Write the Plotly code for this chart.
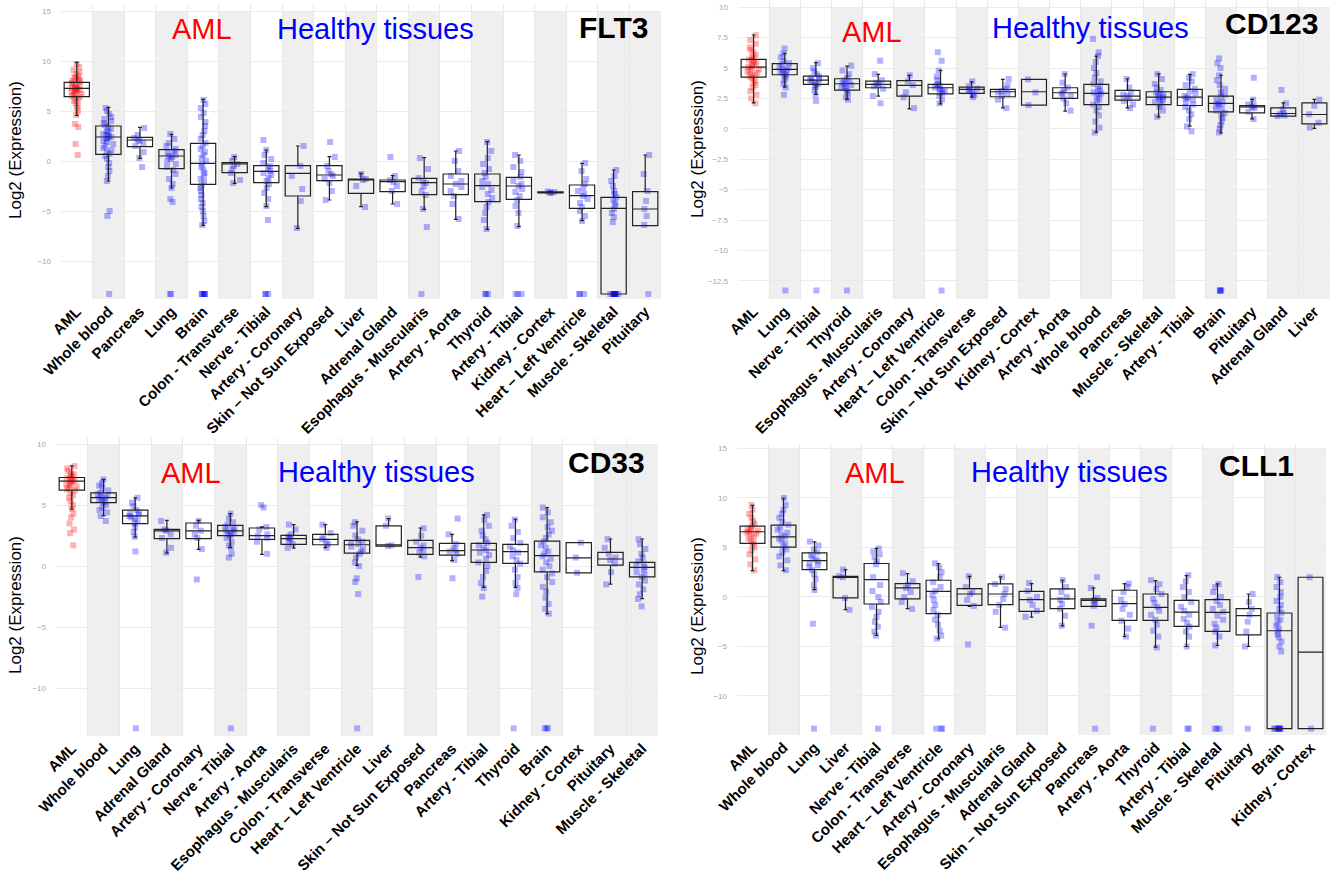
import plotly.graph_objects as go

W, H = 1338, 873
FONT = "Arial, Liberation Sans, sans-serif"

# ---------------- FLT3 ----------------
FLT3_cats = ['AML', 'Whole blood', 'Pancreas', 'Lung', 'Brain', 'Colon - Transverse', 'Nerve - Tibial',
             'Artery - Coronary', 'Skin – Not Sun Exposed', 'Liver', 'Adrenal Gland', 'Esophagus - Muscularis',
             'Artery - Aorta', 'Thyroid', 'Artery - Tibial', 'Kidney - Cortex', 'Heart – Left Ventricle',
             'Muscle - Skeletal', 'Pituitary']
FLT3_q1 = [6.43, 0.67, 1.43, -0.77, -2.33, -1.17, -2.17, -3.5, -1.97, -3.23, -3.07, -3.37, -3.37, -4.07, -3.83, -3.18, -4.73, -13.3, -6.47]
FLT3_med = [7.27, 2.4, 2.1, 0.5, -0.23, -0.3, -1.03, -1.23, -1.4, -1.83, -2.07, -2.17, -2.3, -2.47, -2.5, -3.13, -3.47, -4.73, -4.8]
FLT3_q3 = [7.87, 3.5, 2.37, 1.13, 1.77, -0.17, -0.47, -0.47, -0.47, -1.8, -1.9, -1.73, -1.3, -1.3, -1.63, -3.08, -2.4, -3.63, -3.07]
FLT3_lo = [4.57, -2.0, 0.27, -2.7, -6.43, -2.23, -4.57, -6.73, -3.9, -4.57, -4.3, -4.83, -5.83, -6.83, -6.57, -3.2, -5.97, -13.3, -6.47]
FLT3_hi = [9.87, 5.37, 3.37, 2.67, 6.17, 0.43, 1.1, 1.5, 0.43, -1.23, -1.47, 0.33, 1.0, 1.93, 0.6, -3.05, -0.23, -0.9, 0.6]
FLT3_pts = [
    [9.7, 9.4, 9.1, 8.9, 8.7, 8.5, 8.4, 8.3, 8.2, 8.1, 8.0, 7.9, 7.8, 7.7, 7.6, 7.5, 7.4, 7.3, 7.3, 7.2, 7.2, 7.1,
     7.0, 7.0, 6.9, 6.8, 6.7, 6.6, 6.5, 6.4, 6.3, 6.2, 6.0, 5.8, 5.6, 5.3, 5.0, 4.6, 3.7, 3.4, 1.7, 0.6],
    [5.3, 5.0, 4.7, 4.4, 4.2, 4.0, 3.8, 3.6, 3.4, 3.2, 3.0, 2.9, 2.7, 2.6, 2.5, 2.4, 2.3, 2.2, 2.0, 1.9, 1.7, 1.5,
     1.3, 1.1, 0.9, 0.7, 0.5, 0.2, -0.2, -0.6, -1.0, -1.5, -2.0, -5.0, -5.5, -13.3],
    [3.3, 2.6, 2.3, 2.1, 2.0, 1.8, 1.5, 0.9, 0.3, -0.6],
    [2.7, 2.2, 1.8, 1.5, 1.2, 1.0, 0.8, 0.6, 0.5, 0.4, 0.2, 0.0, -0.3, -0.6, -0.9, -1.3, -1.8, -2.3, -2.7, -3.8,
     -4.1, -13.3, -13.3],
    [6.1, 5.7, 5.3, 4.8, 4.4, 3.9, 3.5, 3.0, 2.6, 2.2, 1.8, 1.5, 1.2, 0.9, 0.6, 0.3, 0.0, -0.3, -0.6, -0.9, -1.2,
     -1.5, -1.8, -2.1, -2.4, -2.7, -3.0, -3.4, -3.8, -4.2, -4.6, -5.0, -5.5, -6.0, -6.4,
     -13.3, -13.3, -13.3, -13.3, -13.3, -13.3],
    [0.4, 0.0, -0.3, -0.5, -0.8, -1.2, -1.9, -2.2],
    [2.1, 1.1, 0.6, 0.2, -0.2, -0.5, -0.8, -1.0, -1.2, -1.4, -1.7, -2.0, -2.3, -2.7, -3.2, -3.8, -4.5, -5.9,
     -13.3, -13.3, -13.3],
    [1.5, -0.5, -1.5, -2.8, -4.0, -6.7],
    [1.9, 0.4, -0.5, -1.0, -1.3, -1.5, -1.8, -2.2, -3.0, -3.9],
    [-1.3, -1.8, -1.9, -2.5, -4.6],
    [0.4, -1.5, -1.9, -2.1, -2.5, -3.0, -4.3],
    [0.3, -0.8, -1.7, -2.0, -2.2, -2.5, -3.0, -3.4, -4.8, -6.6, -13.3],
    [1.0, 0.0, -1.0, -1.5, -2.0, -2.3, -2.6, -3.0, -3.5, -4.3, -5.8],
    [1.9, 1.0, 0.3, -0.3, -0.8, -1.2, -1.6, -2.0, -2.3, -2.6, -2.9, -3.3, -3.7, -4.1, -4.6, -5.2, -5.9, -6.8,
     -13.3, -13.3, -13.3],
    [0.6, 0.0, -0.6, -1.1, -1.6, -2.0, -2.3, -2.5, -2.8, -3.1, -3.5, -3.9, -4.5, -5.2, -6.5, -13.3, -13.3, -13.3],
    [-3.05, -3.1, -3.15, -3.2],
    [-0.2, -1.0, -1.8, -2.3, -2.7, -3.0, -3.3, -3.5, -3.8, -4.2, -4.6, -5.0, -5.5, -6.0, -13.3, -13.3, -13.3],
    [-0.9, -1.5, -2.0, -2.5, -3.0, -3.3, -3.6, -3.9, -4.2, -4.5, -4.8, -5.2, -5.6, -6.1,
     -13.3, -13.3, -13.3, -13.3, -13.3, -13.3, -13.3, -13.3, -13.3, -13.3],
    [0.6, -1.3, -3.0, -4.0, -4.8, -5.5, -6.4, -13.3],
]

# ---------------- CD123 ----------------
CD123_cats = ['AML', 'Lung', 'Nerve - Tibial', 'Thyroid', 'Esophagus - Muscularis', 'Artery - Coronary',
              'Heart – Left Ventricle', 'Colon - Transverse', 'Skin – Not Sun Exposed', 'Kidney - Cortex',
              'Artery - Aorta', 'Whole blood', 'Pancreas', 'Muscle - Skeletal', 'Artery - Tibial', 'Brain',
              'Pituitary', 'Adrenal Gland', 'Liver']
CD123_q1 = [4.26, 4.45, 3.65, 3.19, 3.38, 2.69, 2.88, 2.91, 2.64, 1.95, 2.5, 2.0, 2.36, 2.0, 1.92, 1.4, 1.32, 1.04, 0.41]
CD123_med = [5.08, 4.89, 4.01, 3.71, 3.65, 3.57, 3.38, 3.24, 3.05, 3.05, 2.97, 2.91, 2.69, 2.61, 2.61, 2.09, 1.81, 1.26, 1.18]
CD123_q3 = [5.71, 5.36, 4.34, 4.12, 3.93, 3.96, 3.65, 3.43, 3.24, 4.07, 3.38, 3.65, 3.16, 3.05, 3.24, 2.69, 1.92, 1.73, 2.14]
CD123_lo = [2.14, 3.43, 2.83, 2.42, 2.69, 1.65, 2.06, 2.61, 1.73, 1.95, 1.46, -0.27, 1.73, 0.99, 0.22, -0.33, 0.82, 1.04, 0.03]
CD123_hi = [7.72, 6.21, 5.44, 5.16, 4.48, 4.4, 4.81, 3.87, 4.07, 4.07, 4.51, 5.99, 4.12, 4.53, 4.48, 4.42, 2.42, 2.14, 2.42]
CD123_pts = [
    [7.7, 7.3, 7.0, 6.7, 6.5, 6.3, 6.1, 5.9, 5.8, 5.7, 5.6, 5.5, 5.4, 5.3, 5.2, 5.1, 5.0, 4.9, 4.8, 4.7, 4.6, 4.5,
     4.4, 4.3, 4.2, 4.0, 3.8, 3.6, 3.4, 3.1, 2.8, 2.5, 2.1],
    [6.6, 6.2, 5.9, 5.6, 5.4, 5.3, 5.1, 5.0, 4.9, 4.8, 4.7, 4.6, 4.5, 4.4, 4.2, 4.0, 3.7, 3.4, 2.8, -13.3],
    [5.4, 5.0, 4.7, 4.5, 4.3, 4.2, 4.1, 4.0, 3.9, 3.8, 3.7, 3.6, 3.4, 3.2, 2.8, 2.3, -13.3],
    [5.2, 4.8, 4.5, 4.2, 4.0, 3.9, 3.8, 3.7, 3.6, 3.5, 3.4, 3.3, 3.1, 2.9, 2.6, 2.4, -13.3],
    [5.6, 4.5, 4.0, 3.8, 3.7, 3.6, 3.5, 3.3, 2.7, 2.1],
    [4.4, 3.9, 3.6, 3.0, 2.6, 1.7],
    [6.3, 5.6, 4.8, 4.3, 4.0, 3.7, 3.6, 3.5, 3.4, 3.3, 3.2, 3.1, 3.0, 2.9, 2.7, 2.4, 2.1, -13.3],
    [3.9, 3.5, 3.3, 3.2, 3.1, 3.0, 2.8, 2.6],
    [4.1, 3.6, 3.3, 3.1, 3.0, 2.9, 2.7, 2.4, 1.7],
    [4.07, 3.0, 1.95],
    [4.5, 3.8, 3.4, 3.2, 3.0, 2.9, 2.7, 2.5, 2.1, 1.5],
    [7.4, 6.3, 6.0, 5.5, 5.0, 4.6, 4.2, 3.9, 3.7, 3.5, 3.3, 3.1, 3.0, 2.9, 2.8, 2.6, 2.4, 2.2, 2.0, 1.8, 1.5, 1.1,
     0.6, 0.1, -0.3],
    [4.1, 3.4, 3.0, 2.8, 2.7, 2.5, 2.3, 2.0, 1.7],
    [4.5, 4.1, 3.7, 3.4, 3.2, 3.0, 2.9, 2.8, 2.7, 2.6, 2.5, 2.4, 2.3, 2.2, 2.0, 1.8, 1.5, 1.0],
    [4.5, 4.2, 3.9, 3.6, 3.3, 3.1, 2.9, 2.7, 2.6, 2.5, 2.4, 2.2, 2.0, 1.8, 1.5, 1.2, 0.8, 0.2, -0.2],
    [5.8, 5.4, 5.0, 4.4, 4.0, 3.6, 3.3, 3.0, 2.8, 2.6, 2.4, 2.2, 2.1, 2.0, 1.9, 1.7, 1.5, 1.3, 1.1, 0.9, 0.6, 0.3,
     0.0, -0.3, -13.3, -13.3, -13.3, -13.3],
    [4.2, 2.4, 2.0, 1.9, 1.8, 1.7, 1.4, 0.8],
    [3.2, 2.1, 1.6, 1.3, 1.2, 1.1, 1.05],
    [2.4, 1.9, 1.2, 0.5, 0.1],
]

# ---------------- CD33 ----------------
CD33_cats = ['AML', 'Whole blood', 'Lung', 'Adrenal Gland', 'Artery - Coronary', 'Nerve - Tibial', 'Artery - Aorta',
             'Esophagus - Muscularis', 'Colon - Transverse', 'Heart – Left Ventricle', 'Liver',
             'Skin – Not Sun Exposed', 'Pancreas', 'Artery - Tibial', 'Thyroid', 'Brain', 'Kidney - Cortex',
             'Pituitary', 'Muscle - Skeletal']
CD33_q1 = [6.22, 5.21, 3.48, 2.25, 2.25, 2.49, 2.19, 1.78, 1.75, 1.07, 1.64, 0.96, 0.9, 0.3, 0.22, -0.47, -0.55, 0.08, -0.88]
CD33_med = [6.96, 5.62, 4.11, 2.88, 2.88, 2.88, 2.49, 2.25, 2.19, 1.75, 1.75, 1.51, 1.26, 1.32, 1.18, 0.85, 0.68, 0.58, -0.11]
CD33_q3 = [7.26, 6.0, 4.58, 3.01, 3.53, 3.34, 3.12, 2.52, 2.6, 2.11, 3.29, 2.11, 1.86, 1.86, 1.78, 2.05, 1.92, 1.12, 0.3]
CD33_lo = [4.66, 4.14, 2.38, 1.07, 1.37, 1.51, 0.96, 1.48, 1.51, 0.05, 1.64, 0.74, 0.44, -1.75, -1.75, -3.89, -0.55, -1.48, -2.66]
CD33_hi = [8.22, 7.1, 5.59, 3.75, 3.75, 4.3, 3.21, 3.4, 3.4, 3.62, 3.89, 3.12, 2.6, 4.19, 3.84, 4.79, 1.92, 2.22, 2.22]
CD33_pts = [
    [8.2, 8.0, 7.8, 7.6, 7.5, 7.4, 7.3, 7.2, 7.1, 7.0, 7.0, 6.9, 6.8, 6.7, 6.6, 6.5, 6.4, 6.3, 6.2, 6.0, 5.8, 5.6,
     5.3, 5.0, 4.7, 4.3, 4.0, 3.5, 3.0, 2.7, 1.7],
    [7.1, 6.8, 6.6, 6.4, 6.2, 6.0, 5.9, 5.8, 5.7, 5.6, 5.5, 5.4, 5.3, 5.2, 5.0, 4.8, 4.6, 4.4, 4.1, 3.7],
    [5.6, 5.2, 4.9, 4.6, 4.4, 4.3, 4.2, 4.1, 4.0, 3.9, 3.7, 3.5, 3.2, 2.8, 2.4, 1.2, -13.3],
    [3.7, 3.0, 2.9, 2.6, 2.3, 1.5, 1.1],
    [3.7, 3.3, 2.9, 2.6, 2.3, 1.4, -1.1],
    [4.3, 3.9, 3.6, 3.4, 3.2, 3.1, 3.0, 2.9, 2.8, 2.7, 2.6, 2.5, 2.3, 2.0, 1.7, 1.5, 1.0, 0.7, -13.3],
    [5.0, 4.8, 3.2, 3.0, 2.6, 2.5, 2.3, 2.0, 1.0],
    [3.4, 3.0, 2.6, 2.4, 2.3, 2.2, 2.0, 1.8, 1.5],
    [3.4, 2.7, 2.4, 2.2, 2.0, 1.8, 1.5],
    [3.6, 3.3, 2.9, 2.5, 2.2, 2.0, 1.9, 1.8, 1.6, 1.4, 1.2, 1.0, 0.7, 0.3, 0.0, -1.0, -1.3, -2.3, -13.3],
    [3.9, 3.3, 1.7, 1.65],
    [3.1, 2.5, 2.0, 1.7, 1.5, 1.3, 1.1, 0.8, -0.9],
    [3.9, 2.6, 1.8, 1.5, 1.3, 1.2, 1.0, 0.5, -1.0],
    [4.2, 3.8, 3.3, 2.9, 2.5, 2.2, 1.9, 1.7, 1.5, 1.3, 1.1, 0.9, 0.6, 0.3, 0.0, -0.4, -0.9, -1.4, -1.8, -2.5],
    [3.8, 3.3, 2.8, 2.3, 1.9, 1.6, 1.3, 1.1, 0.8, 0.5, 0.2, -0.3, -0.9, -1.4, -1.8, -2.3, -13.3],
    [4.8, 4.4, 4.0, 3.6, 3.2, 2.9, 2.6, 2.3, 2.0, 1.7, 1.5, 1.2, 1.0, 0.8, 0.6, 0.3, 0.0, -0.3, -0.6, -0.9, -1.3,
     -1.7, -2.1, -2.6, -3.1, -3.5, -3.9, -13.3, -13.3, -13.3],
    [1.92, 0.7, -0.55],
    [2.2, 1.5, 1.0, 0.7, 0.5, 0.2, -0.5, -1.5],
    [2.2, 1.8, 1.4, 1.0, 0.7, 0.4, 0.2, 0.0, -0.1, -0.3, -0.5, -0.7, -0.9, -1.2, -1.5, -1.9, -2.3, -2.7, -3.3],
]

# ---------------- CLL1 ----------------
CLL1_cats = ['AML', 'Whole blood', 'Lung', 'Liver', 'Nerve - Tibial', 'Colon - Transverse', 'Heart – Left Ventricle',
             'Artery - Coronary', 'Esophagus - Muscularis', 'Adrenal Gland', 'Skin – Not Sun Exposed', 'Pancreas',
             'Artery - Aorta', 'Thyroid', 'Artery - Tibial', 'Muscle - Skeletal', 'Pituitary', 'Brain',
             'Kidney - Cortex']
CLL1_q1 = [5.41, 5.03, 2.77, -0.1, -0.71, -0.2, -1.69, -0.84, -0.78, -1.45, -1.18, -0.95, -2.36, -2.36, -2.97, -3.48, -3.82, -13.3, -13.3]
CLL1_med = [6.59, 6.08, 3.68, 2.03, 1.76, 0.91, 0.57, 0.3, 0.3, -0.27, -0.2, -0.34, -0.68, -1.05, -1.52, -1.55, -1.89, -3.41, -5.57]
CLL1_q3 = [7.16, 7.26, 4.46, 2.09, 3.38, 1.35, 1.69, 0.84, 1.32, 0.57, 0.81, -0.2, 0.68, 0.3, -0.34, -0.27, -1.18, -1.62, 1.99]
CLL1_lo = [2.67, 2.67, 0.74, -1.28, -3.89, -1.18, -4.22, -0.95, -3.07, -2.03, -2.91, -0.95, -3.99, -5.07, -5.0, -4.9, -5.0, -13.3, -13.3]
CLL1_hi = [9.26, 9.97, 5.57, 2.77, 4.9, 2.36, 3.38, 2.09, 2.03, 1.35, 1.69, 0.91, 1.35, 1.66, 2.16, 1.32, 0.3, 1.99, 1.99]
CLL1_pts = [
    [9.3, 8.8, 8.4, 8.0, 7.7, 7.4, 7.2, 7.0, 6.9, 6.8, 6.7, 6.6, 6.5, 6.4, 6.3, 6.1, 5.9, 5.7, 5.5, 5.3, 5.0, 4.7,
     4.3, 3.8, 3.3, 2.7],
    [10.0, 9.3, 8.8, 8.4, 8.0, 7.6, 7.3, 7.0, 6.8, 6.5, 6.3, 6.1, 5.9, 5.7, 5.4, 5.1, 4.8, 4.5, 4.1, 3.7, 3.2, 2.7],
    [5.6, 5.2, 4.8, 4.5, 4.2, 4.0, 3.8, 3.6, 3.4, 3.2, 3.0, 2.7, 2.3, 1.8, 1.2, 0.7, -2.7, -13.3],
    [2.77, 2.1, 2.0, -0.1, -1.3],
    [4.9, 4.6, 4.3, 4.0, 3.6, 3.3, 2.0, 1.2, 0.6, 0.0, -0.5, -1.0, -1.5, -2.0, -2.5, -3.0, -3.5, -3.9, -13.3],
    [2.4, 1.6, 1.2, 0.9, 0.5, 0.0, -0.5, -1.2],
    [3.4, 3.0, 2.5, 2.0, 1.5, 1.0, 0.6, 0.2, -0.3, -0.8, -1.3, -1.8, -2.3, -2.8, -3.4, -3.9, -4.2,
     -13.3, -13.3, -13.3],
    [2.1, 1.0, 0.5, 0.3, -0.3, -0.9, -4.8],
    [2.0, 1.3, 0.8, 0.3, -0.2, -0.8, -1.5, -3.1],
    [1.4, 0.6, 0.0, -0.3, -0.8, -1.4, -2.0],
    [1.7, 1.0, 0.5, 0.0, -0.3, -0.7, -1.2, -1.9, -2.9],
    [2.0, 0.9, -0.1, -0.3, -0.4, -0.6, -0.9, -2.9, -13.3],
    [1.35, 1.0, 0.5, -0.3, -0.7, -1.2, -1.8, -2.4, -3.2, -4.0],
    [1.7, 1.3, 0.8, 0.3, -0.2, -0.6, -1.0, -1.4, -1.8, -2.3, -2.8, -3.4, -4.0, -5.1, -13.3],
    [2.2, 1.6, 1.0, 0.5, 0.0, -0.5, -1.0, -1.4, -1.8, -2.2, -2.6, -3.0, -3.5, -4.0, -5.0, -13.3, -13.3],
    [1.3, 1.0, 0.5, 0.0, -0.4, -0.8, -1.2, -1.5, -1.9, -2.3, -2.7, -3.1, -3.5, -4.0, -4.9, -13.3, -13.3, -13.3],
    [0.3, -0.5, -1.2, -1.8, -2.5, -3.5, -5.0, -13.3],
    [2.0, 1.5, 1.0, 0.5, 0.0, -0.4, -0.8, -1.2, -1.6, -2.0, -2.3, -2.6, -2.9, -3.2, -3.5, -3.8, -4.1, -4.5, -5.0,
     -5.5, -13.3, -13.3, -13.3, -13.3, -13.3, -13.3, -13.3, -13.3],
    [1.99, -13.3],
]

# ---------------- panel placement (pixels) ----------------
panels = [
    dict(gene='FLT3', cats=FLT3_cats, q1=FLT3_q1, med=FLT3_med, q3=FLT3_q3, lo=FLT3_lo, hi=FLT3_hi, pts=FLT3_pts,
         px=(61, 661), py=(4, 299), yr=(-13.8, 15.7), dtick=5, band_top=15,
         aml=(170, 29), healthy=(275, 29), genepos=(577, 28), title=(15, 150)),
    dict(gene='CD123', cats=CD123_cats, q1=CD123_q1, med=CD123_med, q3=CD123_q3, lo=CD123_lo, hi=CD123_hi,
         pts=CD123_pts, px=(738, 1330), py=(0, 299), yr=(-14.0, 10.6), dtick=2.5, band_top=10,
         aml=(840, 32), healthy=(990, 28), genepos=(1223, 23), title=(697, 149)),
    dict(gene='CD33', cats=CD33_cats, q1=CD33_q1, med=CD33_med, q3=CD33_q3, lo=CD33_lo, hi=CD33_hi, pts=CD33_pts,
         px=(56, 658), py=(438, 736), yr=(-13.93, 10.5), dtick=5, band_top=10,
         aml=(159, 473), healthy=(276, 472), genepos=(566, 462), title=(15, 605)),
    dict(gene='CLL1', cats=CLL1_cats, q1=CLL1_q1, med=CLL1_med, q3=CLL1_q3, lo=CLL1_lo, hi=CLL1_hi, pts=CLL1_pts,
         px=(737, 1326), py=(444, 735), yr=(-13.94, 15.45), dtick=5, band_top=15,
         aml=(843, 473), healthy=(969, 472), genepos=(1217, 465), title=(697, 606)),
]

fig = go.Figure()
layout = dict(width=W, height=H, margin=dict(l=0, r=0, t=0, b=0), paper_bgcolor='white', plot_bgcolor='white',
              showlegend=False, boxmode='overlay', shapes=[], annotations=[])

for k, p in enumerate(panels):
    sfx = '' if k == 0 else str(k + 1)
    xa, ya = 'x' + sfx, 'y' + sfx
    cats = p['cats']
    n = len(cats)
    layout['xaxis' + sfx] = dict(
        domain=[p['px'][0] / W, p['px'][1] / W], anchor=ya, type='category',
        categoryorder='array', categoryarray=cats, range=[-0.5, n - 0.5],
        tickangle=-45, tickfont=dict(family=FONT, size=15, color='black', weight='bold'),
        showgrid=True, gridcolor='#e8e8e8', tickson='boundaries', ticks='', showline=False,
        zeroline=False, automargin=False)
    layout['yaxis' + sfx] = dict(
        domain=[1 - p['py'][1] / H, 1 - p['py'][0] / H], anchor=xa, range=list(p['yr']),
        dtick=p['dtick'], tick0=0, showgrid=True, gridcolor='#ebebeb', zeroline=False, showline=False,
        tickfont=dict(family=FONT, size=8, color='#a8a8a8'), ticklabelstandoff=9, automargin=False)

    # alternating shaded category bands (odd slots and last slot)
    for i in range(n):
        if i % 2 == 1 or i == n - 1:
            layout['shapes'].append(dict(type='rect', xref=xa, yref=ya, x0=i - 0.5, x1=i + 0.5,
                                         y0=p['yr'][0], y1=p['band_top'], fillcolor='#efefef',
                                         line=dict(width=0), layer='below'))

    # jittered points
    pts = p['pts']
    for color, idxs in (('#ff0000', [0]), ('#0000ff', list(range(1, n)))):
        xs, ys = [], []
        for i in idxs:
            xs += [cats[i]] * len(pts[i])
            ys += pts[i]
        fig.add_trace(go.Box(x=xs, y=ys, xaxis=xa, yaxis=ya, boxpoints='all', jitter=0.5, pointpos=0,
                             width=0.8, fillcolor='rgba(0,0,0,0)', line=dict(width=0, color='rgba(0,0,0,0)'),
                             marker=dict(color=color, opacity=0.3, size=6, symbol='square',
                                         line=dict(width=0)),
                             hoverinfo='skip'))
    # boxes from summary statistics
    fig.add_trace(go.Box(x=cats, q1=p['q1'], median=p['med'], q3=p['q3'],
                         lowerfence=p['lo'], upperfence=p['hi'], xaxis=xa, yaxis=ya,
                         boxpoints=False, width=0.8, whiskerwidth=0.15,
                         fillcolor='rgba(0,0,0,0)', line=dict(color='#222222', width=1.2),
                         hoverinfo='skip'))

    # text labels
    ann = layout['annotations']
    ann.append(dict(text='AML', x=p['aml'][0] / W, y=1 - p['aml'][1] / H, xref='paper', yref='paper',
                    xanchor='left', yanchor='middle', showarrow=False,
                    font=dict(family=FONT, size=29, color='#ff0000')))
    ann.append(dict(text='Healthy tissues', x=p['healthy'][0] / W, y=1 - p['healthy'][1] / H, xref='paper',
                    yref='paper', xanchor='left', yanchor='middle', showarrow=False,
                    font=dict(family=FONT, size=29, color='#0000ff')))
    ann.append(dict(text=p['gene'], x=p['genepos'][0] / W, y=1 - p['genepos'][1] / H, xref='paper',
                    yref='paper', xanchor='left', yanchor='middle', showarrow=False,
                    font=dict(family=FONT, size=30, color='black', weight='bold')))
    ann.append(dict(text='Log2 (Expression)', x=p['title'][0] / W, y=1 - p['title'][1] / H, xref='paper',
                    yref='paper', xanchor='center', yanchor='middle', showarrow=False, textangle=-90,
                    font=dict(family=FONT, size=17, color='black')))

fig.update_layout(**layout)
fig.write_html("out.html")
